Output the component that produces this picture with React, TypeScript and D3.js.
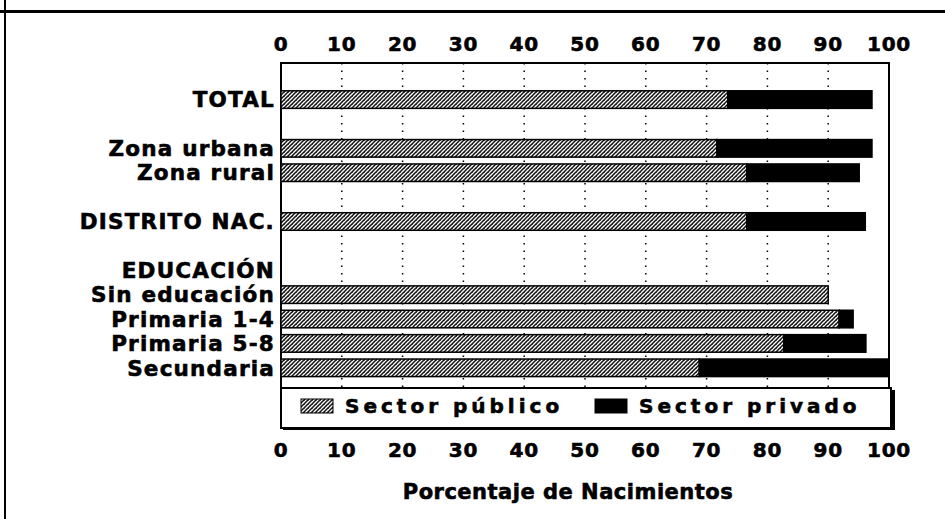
import { useEffect, useRef } from "react";
import * as d3 from "d3";

// rows from top to bottom; "_" rows are spacers
const rows = [
  "_a",
  "TOTAL",
  "_b",
  "Zona urbana",
  "Zona rural",
  "_c",
  "DISTRITO NAC.",
  "_d",
  "EDUCACIÓN",
  "Sin educación",
  "Primaria 1-4",
  "Primaria 5-8",
  "Secundaria",
];

const categories = [
  "TOTAL",
  "Zona urbana",
  "Zona rural",
  "DISTRITO NAC.",
  "Sin educación",
  "Primaria 1-4",
  "Primaria 5-8",
  "Secundaria",
];
const publico = [73.5, 71.7, 76.6, 76.6, 90.0, 91.8, 82.7, 68.8];
const privado = [23.7, 25.5, 18.5, 19.5, 0, 2.3, 13.5, 31.2];

const ticks = [0, 10, 20, 30, 40, 50, 60, 70, 80, 90, 100];
const seriesNames = ["Sector público", "Sector privado"];

const W = 945;
const H = 519;
const FONT = "'DejaVu Sans', Verdana, sans-serif";

export default function App() {
  const svgRef = useRef<SVGSVGElement>(null);

  useEffect(() => {
    const svg = d3.select(svgRef.current);
    svg.selectAll("*").remove();

    const left = 281;
    const right = 889;
    const top = 63;
    const plotBottom = 388;
    const legendBottom = 428;

    const x = d3.scaleLinear().domain([0, 100]).range([left, right]);
    const y = d3
      .scaleBand()
      .domain(rows)
      .range([top, 380])
      .paddingInner(0.28)
      .paddingOuter(0.14);

    // crosshatch pattern for the public sector
    const defs = svg.append("defs");
    const pat = defs
      .append("pattern")
      .attr("id", "hatch")
      .attr("patternUnits", "userSpaceOnUse")
      .attr("width", 4)
      .attr("height", 4);
    pat.append("rect").attr("width", 4).attr("height", 4).attr("fill", "#fff");
    pat
      .append("path")
      .attr("d", "M-1,1 l2,-2 M0,4 l4,-4 M3,5 l2,-2")
      .attr("stroke", "#111")
      .attr("stroke-width", 1.5);
    pat
      .append("rect")
      .attr("x", 0)
      .attr("y", 0)
      .attr("width", 1)
      .attr("height", 1)
      .attr("fill", "#444");

    // page frame
    svg
      .append("line")
      .attr("x1", 0)
      .attr("x2", W)
      .attr("y1", 11.5)
      .attr("y2", 11.5)
      .attr("stroke", "#000")
      .attr("stroke-width", 3);
    svg
      .append("line")
      .attr("x1", 5)
      .attr("x2", 5)
      .attr("y1", 0)
      .attr("y2", H)
      .attr("stroke", "#000")
      .attr("stroke-width", 2);

    // dotted grid
    svg
      .append("g")
      .selectAll("line")
      .data(ticks.slice(1, -1))
      .join("line")
      .attr("x1", (d) => x(d))
      .attr("x2", (d) => x(d))
      .attr("y1", top)
      .attr("y2", plotBottom)
      .attr("stroke", "#000")
      .attr("stroke-width", 1.5)
      .attr("stroke-dasharray", "1.5,6");

    // plot frame
    svg
      .append("path")
      .attr("d", `M${left},${legendBottom} V${top} H${right} V${plotBottom}`)
      .attr("fill", "none")
      .attr("stroke", "#000")
      .attr("stroke-width", 2);

    // bars
    const bh = y.bandwidth();
    const g = svg.append("g");
    categories.forEach((c, i) => {
      const y0 = y(c)!;
      g.append("rect")
        .attr("x", x(0))
        .attr("y", y0)
        .attr("width", x(publico[i]) - x(0))
        .attr("height", bh)
        .attr("fill", "url(#hatch)")
        .attr("stroke", "#000")
        .attr("stroke-width", 1.5);
      if (privado[i] > 0) {
        g.append("rect")
          .attr("x", x(publico[i]))
          .attr("y", y0)
          .attr("width", x(publico[i] + privado[i]) - x(publico[i]))
          .attr("height", bh)
          .attr("fill", "#000")
          .attr("stroke", "#000")
          .attr("stroke-width", 1.5);
      }
    });

    const boldText = (sel: d3.Selection<any, any, any, any>, size: number, ls: number) =>
      sel
        .attr("font-family", FONT)
        .attr("font-weight", "bold")
        .attr("font-size", size)
        .attr("letter-spacing", ls)
        .attr("stroke", "#000")
        .attr("stroke-width", 0.6)
        .attr("fill", "#000");

    // category labels
    const labels = rows.filter((r) => !r.startsWith("_"));
    svg
      .append("g")
      .selectAll("text")
      .data(labels)
      .join("text")
      .attr("x", 275)
      .attr("y", (d) => y(d)! + bh / 2)
      .attr("dy", "0.36em")
      .attr("text-anchor", "end")
      .call((s) => boldText(s, 21.5, 1.2))
      .text((d) => d);

    // tick labels top and bottom
    [44, 450].forEach((ty) => {
      svg
        .append("g")
        .selectAll("text")
        .data(ticks)
        .join("text")
        .attr("x", (d) => x(d))
        .attr("y", ty)
        .attr("dy", "0.36em")
        .attr("text-anchor", "middle")
        .call((s) => boldText(s, 20, 0.8))
        .text((d) => d);
    });

    // axis title
    svg
      .append("text")
      .attr("x", 568)
      .attr("y", 491)
      .attr("dy", "0.36em")
      .attr("text-anchor", "middle")
      .call((s) => boldText(s, 21, 0.5))
      .text("Porcentaje de Nacimientos");

    // legend box with shadow
    const lg = svg.append("g");
    lg.append("rect")
      .attr("x", left + 2)
      .attr("y", plotBottom + 2)
      .attr("width", 893 - left)
      .attr("height", legendBottom - plotBottom)
      .attr("fill", "#000");
    lg.append("rect")
      .attr("x", left)
      .attr("y", plotBottom)
      .attr("width", 891 - left)
      .attr("height", legendBottom - plotBottom)
      .attr("fill", "#fff")
      .attr("stroke", "#000")
      .attr("stroke-width", 2);

    const legendX = [301, 595];
    seriesNames.forEach((name, i) => {
      lg.append("rect")
        .attr("x", legendX[i])
        .attr("y", 399)
        .attr("width", 32)
        .attr("height", 14)
        .attr("fill", i === 0 ? "url(#hatch)" : "#000")
        .attr("stroke", "#000")
        .attr("stroke-width", 1);
      lg.append("text")
        .attr("x", legendX[i] + 44)
        .attr("y", 406)
        .attr("dy", "0.36em")
        .call((s) => boldText(s, 20, 4))
        .text(name);
    });
  }, []);

  return (
    <svg
      ref={svgRef}
      width={W}
      height={H}
      viewBox={`0 0 ${W} ${H}`}
      style={{ position: "absolute", left: 0, top: 0, background: "#fff" }}
    />
  );
}
